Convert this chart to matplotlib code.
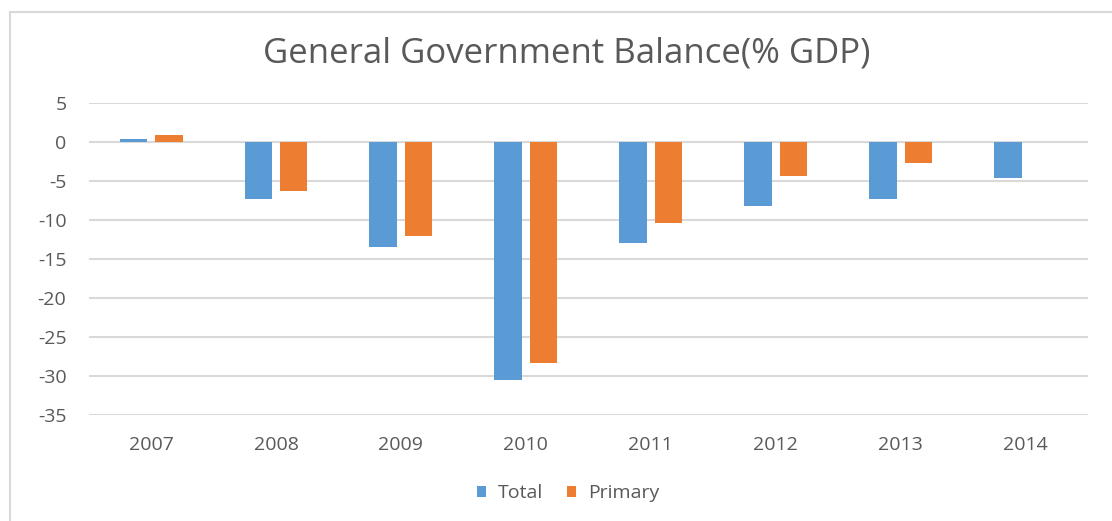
import numpy as np
import matplotlib.pyplot as plt
from matplotlib.patches import Rectangle

# data
years = ['2007', '2008', '2009', '2010', '2011', '2012', '2013', '2014']
total = [0.35, -7.3, -13.5, -30.5, -13.0, -8.2, -7.3, -4.7]
primary = [0.8, -6.35, -12.1, -28.4, -10.45, -4.45, -2.75, np.nan]
yticks = [5, 0, -5, -10, -15, -20, -25, -30, -35]

blue = '#5B9BD5'
orange = '#ED7D31'
grey_text = '#595959'
grid_col = '#D9D9D9'

plt.rcParams['font.family'] = ['Open Sans', 'DejaVu Sans']

fig = plt.figure(figsize=(11.12, 5.21), dpi=100)
W, H = 1112, 521

# chart border
fig.patches.append(Rectangle((10 / W, -0.05), 1.2, 1 - 12 / H + 0.05, transform=fig.transFigure,
                             fill=False, edgecolor='#D9D9D9', linewidth=1.5))

ax = fig.add_axes([88.6 / W, 1 - 415 / H, (1088 - 88.6) / W, (415 - 102.6) / H])

x = np.arange(len(years))
bw = 0.22
off = 0.142
ax.bar(x - off, total, bw, color=blue, label='Total', zorder=3)
ax.bar(x + off, primary, bw, color=orange, label='Primary', zorder=3)

ax.set_xlim(-0.5, len(years) - 0.5)
ax.set_ylim(-35, 5)
ax.set_yticks(yticks)
ax.set_yticklabels([str(v) for v in yticks])
ax.set_xticks(x)
ax.set_xticklabels(years)
ax.yaxis.grid(True, color=grid_col, linewidth=1.5, zorder=0)
ax.set_axisbelow(True)
for s in ax.spines.values():
    s.set_visible(False)
ax.tick_params(axis='both', length=0, colors=grey_text, labelsize=14)
ax.tick_params(axis='y', pad=16)
ax.tick_params(axis='x', pad=15)

fig.text(0.5 * (243 + 890) / W, 1 - 53 / H, 'General Government Balance(% GDP)',
         ha='center', va='center', fontsize=25, color=grey_text)

fig.legend(loc='center', bbox_to_anchor=(568 / W, 1 - 493 / H), ncol=2, frameon=False,
           fontsize=14, labelcolor=grey_text, handlelength=0.5, handleheight=0.5,
           handletextpad=0.6, columnspacing=1.2)

fig.savefig('out.png', dpi=100)
